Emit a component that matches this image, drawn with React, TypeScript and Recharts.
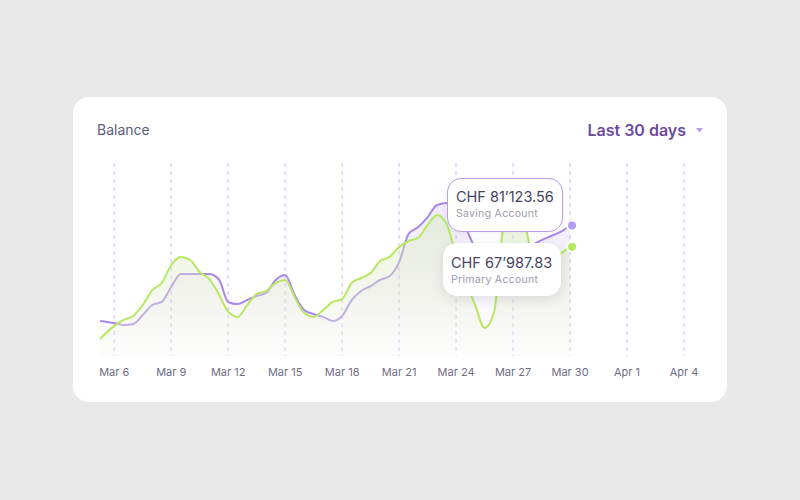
import { ComposedChart, Area, XAxis, YAxis, CartesianGrid } from "recharts";

// x positions in days from Mar 6
const days = [
  -0.75, 0, 0.5, 1, 1.5, 2, 2.5, 3, 3.5, 4, 4.5, 5, 5.5, 6, 6.5, 7, 7.5, 8, 8.5, 9, 9.5, 10, 10.5, 11, 11.5, 12,
  12.5, 13, 13.5, 14, 14.5, 15, 15.5, 16, 16.5, 17, 17.5, 18, 18.5, 19, 19.5, 20, 20.5, 21, 21.5, 22, 22.5, 23,
  23.5, 24,
];

const saving = [
  21800, 20500, 19300, 19900, 25500, 31700, 33600, 42900, 51000, 51000, 51000, 51000, 47900, 33600, 32300, 34800,
  37300, 39200, 47300, 50400, 37900, 28600, 26100, 24300, 21800, 24900, 34800, 40400, 43500, 47300, 49700, 58400,
  75900, 80200, 86400, 93900, 95100, 88900, 79600, 67200, 58400, 54700, 56000, 59700, 64700, 69000, 72100, 74600,
  77100, 81123.56,
];

const primary = [
  10600, 18700, 22400, 24900, 31700, 41000, 45400, 56600, 61600, 59700, 52200, 47900, 38600, 27400, 24300, 31700,
  38600, 40400, 45400, 47300, 36700, 26700, 24300, 28600, 33600, 35400, 45400, 48500, 51600, 59100, 61600, 67800,
  71500, 73400, 81500, 87700, 82100, 62800, 46000, 31700, 17400, 27400, 81500, 93900, 87700, 62800, 54700, 56600,
  63400, 67987.83,
];

const tickDays = [0, 3, 6, 9, 12, 15, 18, 21, 24, 27, 30];
const tickLabels = ["Mar 6", "Mar 9", "Mar 12", "Mar 15", "Mar 18", "Mar 21", "Mar 24", "Mar 27", "Mar 30", "Apr 1", "Apr 4"];

const X_DOMAIN: [number, number] = [-0.75, 30];

const data = days.map((day, i) => ({ day, saving: saving[i], primary: primary[i] }));

const FONT = "Inter, 'Noto Sans', sans-serif";

const endDot = (color: string) => (props: any) => {
  const { cx, cy, index } = props;
  if (index !== days.length - 1) return <g key={index} />;
  return <circle key={index} cx={cx + 2} cy={cy} r={5} fill={color} stroke="#fff" strokeWidth={2} />;
};

function Bubble({ left, top, width, height, value, label, border }: any) {
  return (
    <div
      style={{
        position: "absolute",
        left,
        top,
        width,
        height,
        boxSizing: "border-box",
        background: "#fff",
        borderRadius: 14,
        border: border ? "1.5px solid #b99de9" : "none",
        boxShadow: border ? "0 2px 6px rgba(80,60,120,0.06)" : "0 3px 12px rgba(40,40,60,0.12)",
      }}
    >
      <div style={{ position: "absolute", left: 8, top: border ? 10 : 11.5, fontSize: 14.5, lineHeight: "15px", color: "#45445f" }}>
        {value}
      </div>
      <div style={{ position: "absolute", left: 8, top: border ? 30 : 31.5, fontSize: 10.5, lineHeight: "10.5px", color: "#9c9bad", letterSpacing: 0.3 }}>
        {label}
      </div>
    </div>
  );
}

export default function App() {
  return (
    <div style={{ position: "absolute", left: 0, top: 0, width: 800, height: 500, background: "#e9e9e9", fontFamily: FONT }}>
      <div style={{ position: "absolute", left: 73, top: 97, width: 654, height: 305, background: "#fff", borderRadius: 16 }}>
        <div style={{ position: "absolute", left: 24, top: 26, fontSize: 14, lineHeight: "14px", color: "#5c5b7a" }}>Balance</div>
        <div style={{ position: "absolute", right: 41, top: 25, fontSize: 16, lineHeight: "16px", fontWeight: 600, color: "#6b4aa2" }}>
          Last 30 days
        </div>
        <svg style={{ position: "absolute", left: 623, top: 31 }} width={7} height={5}>
          <path d="M0 0 L7 0 L3.5 4.5 Z" fill="#b9a3e2" />
        </svg>

        <ComposedChart width={654} height={305} data={data} margin={{ top: 66, right: 43, bottom: 16, left: 27 }}>
          <defs>
            <linearGradient id="savingFill" x1="0" y1="0" x2="0" y2="1">
              <stop offset="0%" stopColor="#a98ae6" stopOpacity={0.3} />
              <stop offset="100%" stopColor="#a98ae6" stopOpacity={0} />
            </linearGradient>
            <linearGradient id="primaryFill" x1="0" y1="0" x2="0" y2="1">
              <stop offset="0%" stopColor="#d2e9ad" stopOpacity={0.68} />
              <stop offset="55%" stopColor="#e3ebd0" stopOpacity={0.66} />
              <stop offset="100%" stopColor="#f9faf5" stopOpacity={0.55} />
            </linearGradient>
          </defs>
          <CartesianGrid
            horizontal={false}
            stroke="#e3cdfa"
            strokeWidth={1.5}
            strokeDasharray="4 4"
            verticalCoordinatesGenerator={({ offset }: any) =>
              tickDays.map((d) => offset.left + ((d - X_DOMAIN[0]) / (X_DOMAIN[1] - X_DOMAIN[0])) * offset.width)
            }
          />
          <XAxis
            dataKey="day"
            type="number"
            domain={X_DOMAIN}
            ticks={tickDays}
            tickFormatter={(v) => tickLabels[tickDays.indexOf(v)]}
            axisLine={false}
            tickLine={false}
            tickMargin={6}
            height={30}
            tick={{ fontSize: 11, fill: "#6f6e86", fontFamily: FONT }}
          />
          <YAxis hide domain={[0, 120000]} />
          <Area
            type="monotone"
            dataKey="saving"
            stroke="#a888e8"
            strokeWidth={2}
            fill="url(#savingFill)"
            dot={endDot("#b49af0")}
            activeDot={false}
            isAnimationActive={false}
          />
          <Area
            type="monotone"
            dataKey="primary"
            stroke="#b6e862"
            strokeWidth={2}
            fill="url(#primaryFill)"
            dot={endDot("#b6e862")}
            activeDot={false}
            isAnimationActive={false}
          />
        </ComposedChart>

        <Bubble left={374} top={81} width={116} height={54} value="CHF 81’123.56" label="Saving Account" border />
        <Bubble left={370} top={146} width={118} height={53} value="CHF 67’987.83" label="Primary Account" />
      </div>
    </div>
  );
}
